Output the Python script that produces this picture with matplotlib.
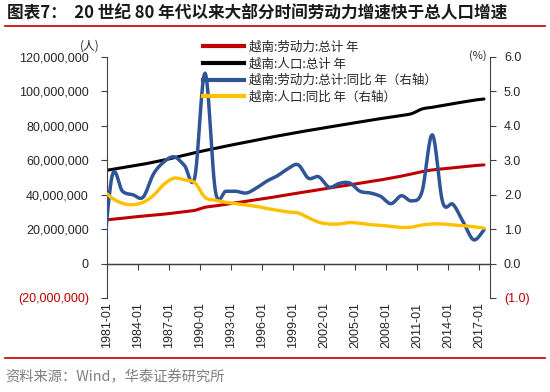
import numpy as np
import matplotlib
matplotlib.use("Agg")
import matplotlib.pyplot as plt
from matplotlib.lines import Line2D

plt.rcParams['font.family'] = ['Liberation Sans', 'Noto Sans CJK SC', 'DejaVu Sans']
CJK = ['Noto Sans CJK SC', 'DejaVu Sans']

# annual data, 1980-2017 (plotted at mid-year)
years = np.arange(1980, 2018)

# 越南:劳动力:总计 (persons)
labor = np.array([25.1, 25.7, 26.3, 27.0, 27.6, 28.2, 28.7, 29.4, 30.1, 30.9,
                  32.7, 33.5, 34.4, 35.3, 36.2, 37.1, 38.0, 39.0, 40.0, 41.0,
                  41.9, 42.9, 43.9, 44.8, 45.7, 46.7, 47.7, 48.6, 49.7, 50.8,
                  52.1, 53.4, 54.4, 55.0, 55.6, 56.3, 56.9, 57.3]) * 1e6

# 越南:人口:总计 (persons)
population = np.array([53.7, 54.7, 55.7, 56.7, 57.7, 58.9, 60.1, 61.5, 62.9, 64.4,
                       65.7, 66.9, 68.2, 69.4, 70.6, 71.8, 73.0, 74.1, 75.2, 76.3,
                       77.3, 78.3, 79.3, 80.3, 81.3, 82.3, 83.3, 84.2, 85.1, 86.0,
                       87.1, 89.8, 90.8, 91.9, 92.9, 93.9, 94.9, 95.6]) * 1e6

# 越南:劳动力:总计:同比 (%)
labor_yoy = [-0.4, 2.55, 2.1, 2.0, 1.93, 2.6, 2.95, 3.1, 2.85, 2.5,
             5.53, 2.1, 2.1, 2.1, 2.05, 2.2, 2.4, 2.55, 2.75, 2.87,
             2.48, 2.52, 2.22, 2.33, 2.34, 2.1, 2.05, 1.95, 1.74, 1.97,
             1.82, 2.09, 3.74, 1.78, 1.72, 1.2, 0.69, 0.98]

# 越南:人口:同比 (%)
pop_yoy = [2.15, 1.9, 1.75, 1.71, 1.78, 1.98, 2.3, 2.48, 2.43, 2.35,
           1.92, 1.84, 1.78, 1.74, 1.7, 1.66, 1.6, 1.55, 1.5, 1.47,
           1.33, 1.2, 1.15, 1.15, 1.19, 1.17, 1.13, 1.11, 1.08, 1.05,
           1.06, 1.12, 1.15, 1.15, 1.12, 1.1, 1.07, 1.03]

tick_years = list(range(1981, 2018, 3))
left_ticks = [-20e6, 0, 20e6, 40e6, 60e6, 80e6, 100e6, 120e6]
right_ticks = [-1, 0, 1, 2, 3, 4, 5, 6]

labels = ['越南:劳动力:总计 年', '越南:人口:总计 年',
          '越南:劳动力:总计:同比 年（右轴）', '越南:人口:同比 年（右轴）']

RED = '#C00000'
BLACK = '#000000'
BLUE = '#2F5597'
YELLOW = '#FFC000'
AXC = '#404040'


def smooth(x, y, steps=12):
    # Excel-style smoothed line (cubic bezier through the points)
    P = np.column_stack([np.asarray(x, float), np.asarray(y, float)])
    ext = np.vstack([P[0], P, P[-1]])
    t = np.linspace(0, 1, steps, endpoint=False)[:, None]
    out = []
    for i in range(len(P) - 1):
        p0, p1, p2, p3 = ext[i], ext[i + 1], ext[i + 2], ext[i + 3]
        c1 = p1 + (p2 - p0) / 6
        c2 = p2 - (p3 - p1) / 6
        out.append((1 - t) ** 3 * p1 + 3 * (1 - t) ** 2 * t * c1
                   + 3 * (1 - t) * t ** 2 * c2 + t ** 3 * p2)
    out.append(P[-1:])
    s = np.vstack(out)
    return s[:, 0], s[:, 1]


fig = plt.figure(figsize=(5.5, 3.92), dpi=100)
ax = fig.add_axes([0.1945, 0.2398, 0.6964, 0.6148])
ax2 = ax.twinx()

xs = years + 0.5
ax.plot(*smooth(xs, labor), color=RED, lw=2.2, solid_capstyle='round')
ax.plot(*smooth(xs, population), color=BLACK, lw=2.2, solid_capstyle='round')
ax2.plot(*smooth(xs, labor_yoy), color=BLUE, lw=2.5, solid_capstyle='round')
ax2.plot(*smooth(xs, pop_yoy), color=YELLOW, lw=2.4, solid_capstyle='round')

ax.set_xlim(1981, 2018.08)
ax.set_ylim(-20e6, 120e6)
ax2.set_ylim(-1, 6)

for a in (ax, ax2):
    a.spines['top'].set_visible(False)
    a.spines['bottom'].set_visible(False)
ax.spines['left'].set_color(AXC)
ax.spines['right'].set_visible(False)
ax2.spines['left'].set_visible(False)
ax2.spines['right'].set_color(AXC)
ax.axhline(0, color=AXC, lw=1, zorder=1)

# x ticks hang from the zero line, labels sit below the plot
ax.spines['bottom'].set_visible(True)
ax.spines['bottom'].set_position(('data', 0))
ax.spines['bottom'].set_color(AXC)
ax.set_xticks(tick_years, labels=[f'{y}-01' for y in tick_years])
ax.tick_params(axis='x', direction='out', length=4, color=AXC, pad=24,
               labelsize=9, labelcolor='#262626', labelrotation=90)
for lb in ax.get_xticklabels():
    lb.set_va('top')

def fmt_left(v):
    s = f'{abs(v):,.0f}'
    return f'({s})' if v < 0 else s

def fmt_right(v):
    s = f'{abs(v):.1f}'
    return f'({s})' if v < 0 else s

ax.set_yticks(left_ticks, labels=[fmt_left(v) for v in left_ticks])
ax2.set_yticks(right_ticks, labels=[fmt_right(v) for v in right_ticks])
ax.tick_params(axis='y', direction='out', length=4, color=AXC, pad=9,
               labelsize=9, labelcolor='#262626')
ax2.tick_params(axis='y', direction='out', length=4, color=AXC, pad=6,
                labelsize=9, labelcolor='#262626')
for lb, v in zip(ax.get_yticklabels(), left_ticks):
    if v < 0:
        lb.set_color(RED)
for lb, v in zip(ax2.get_yticklabels(), right_ticks):
    if v < 0:
        lb.set_color(RED)

# unit labels
fig.text(90 / 550, 1 - 46 / 392, '(人)', family=CJK, fontsize=8.5,
         color='#262626', ha='center', va='center')
fig.text(487 / 550, 1 - 56 / 392, '(%)', family=CJK, fontsize=8,
         color='#262626', ha='right', va='center')

handles = [Line2D([], [], color=c, lw=3) for c in (RED, BLACK, BLUE, YELLOW)]
fig.legend(handles, labels, loc='upper left', bbox_to_anchor=(203 / 550, 1 - 40.5 / 392),
           frameon=False, prop={'family': CJK, 'size': 9}, handlelength=3.3,
           handletextpad=0.4, labelspacing=0.3, borderpad=0, borderaxespad=0,
           labelcolor='#262626')

# title, rules and source
fig.text(7 / 550, 1 - 13.5 / 392, '图表7：  20 世纪 80 年代以来大部分时间劳动力增速快于总人口增速',
         family=CJK, fontsize=12, fontweight='bold', color='#1a1a1a',
         ha='left', va='center')
fig.add_artist(Line2D([5 / 550, 545 / 550], [1 - 25.5 / 392] * 2, color=RED, lw=1.2))
fig.add_artist(Line2D([5 / 550, 545 / 550], [1 - 358 / 392] * 2, color=RED, lw=1.2))
fig.text(5 / 550, 1 - 377 / 392, '资料来源：Wind，华泰证券研究所', family=CJK,
         fontsize=10.3, color='#7f7f7f', ha='left', va='center')

fig.savefig('out.png', dpi=100)
